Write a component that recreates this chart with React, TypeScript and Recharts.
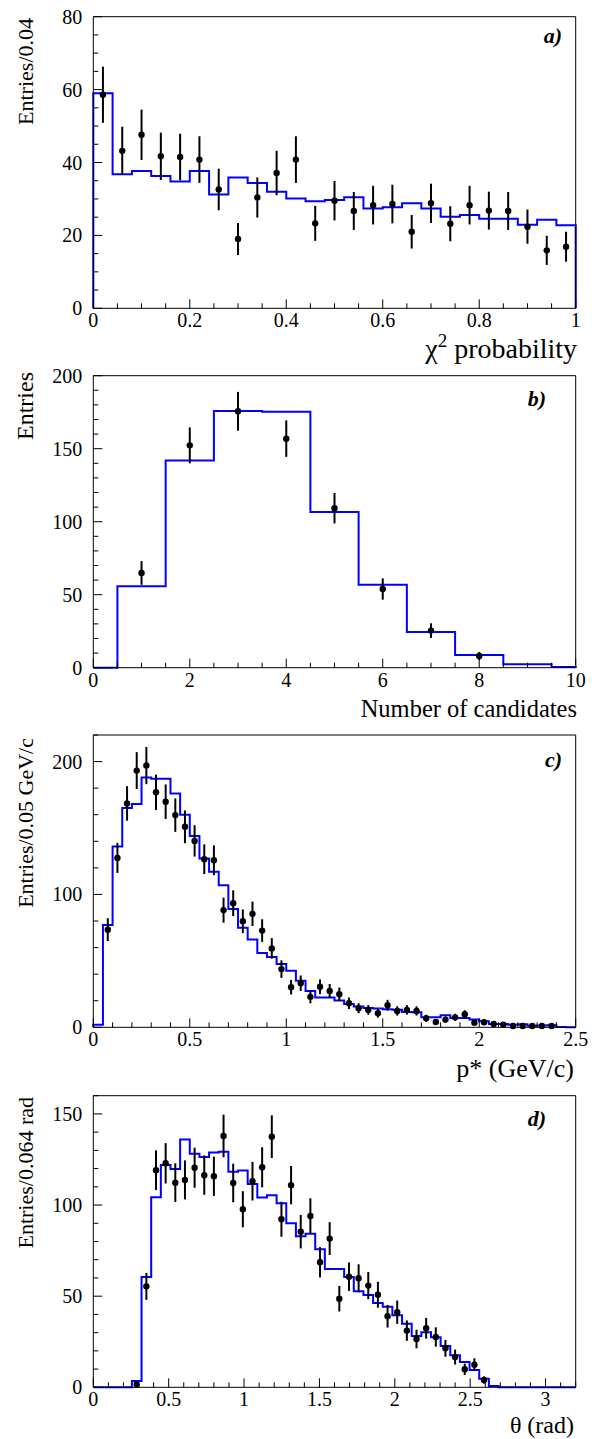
import React from 'react';
import { ComposedChart, Line, Scatter, XAxis, YAxis, ErrorBar } from 'recharts';

const FONT = '"Liberation Serif", "Times New Roman", Times, serif';
const BLUE = '#0000ff';
const MAJOR = 9;
const MINOR = 5;

// ---------------- Panel a) chi2 probability ----------------
const aBinLow = 0;
const aBinWidth = 0.04;
const aXTicks = [0, 0.2, 0.4, 0.6, 0.8, 1];
const aXTickLabels = ['0', '0.2', '0.4', '0.6', '0.8', '1'];
const aYTicks = [0, 20, 40, 60, 80];
const aYTickLabels = ['0', '20', '40', '60', '80'];
const aMc = [59.0, 36.8, 37.7, 36.3, 34.8, 37.7, 31.2, 35.9, 34.4, 32.0, 30.1, 29.4, 29.7,
  30.5, 27.4, 27.7, 28.8, 27.4, 25.1, 25.6, 24.6, 24.6, 22.9, 24.3, 22.8];
const aData = [58.6, 43.2, 47.6, 41.7, 41.5, 40.8, 32.6, 19.0, 30.4, 37.1, 40.8, 23.3, 29.5,
  26.7, 28.3, 28.6, 21.0, 28.8, 23.2, 28.3, 26.8, 26.7, 22.4, 15.9, 16.9];
const aErr = [7.7, 6.6, 6.9, 6.5, 6.4, 6.4, 5.7, 4.4, 5.5, 6.1, 6.4, 4.8, 5.4,
  5.2, 5.3, 5.3, 4.6, 5.4, 4.8, 5.3, 5.2, 5.2, 4.7, 4.0, 4.1];

// ---------------- Panel b) number of candidates ----------------
const bCategories = [0, 1, 2, 3, 4, 5, 6, 7, 8, 9, 10];
const bXTicks = [0, 2, 4, 6, 8, 10];
const bXTickLabels = ['0', '2', '4', '6', '8', '10'];
const bYTicks = [0, 50, 100, 150, 200];
const bYTickLabels = ['0', '50', '100', '150', '200'];
const bMc = [0, 55.8, 142.0, 175.8, 175.3, 106.7, 56.8, 24.5, 8.7, 2.3, 0.4];
const bData = [null, 64.9, 152.3, 175.6, 156.9, 109.2, 53.9, 25.4, 8.0, null, null];
const bErr = [null, 8.1, 12.3, 13.3, 12.5, 10.4, 7.3, 5.0, 2.8, null, null];

// ---------------- Panel c) p* ----------------
const cBinLow = 0;
const cBinWidth = 0.05;
const cXTicks = [0, 0.5, 1, 1.5, 2, 2.5];
const cXTickLabels = ['0', '0.5', '1', '1.5', '2', '2.5'];
const cYTicks = [0, 100, 200];
const cYTickLabels = ['0', '100', '200'];
const cMc = [2, 77, 136, 165, 168, 188, 187, 187, 176, 160, 144, 127, 117, 107, 89, 75, 66, 56, 53,
  47.6, 42.6, 35.0, 27.4, 22.4, 22.4, 20.1, 17.6, 15.6, 14.6, 14.1, 13.6, 13.3, 11.6, 11.3,
  7.6, 7.6, 9.1, 7.0, 7.0, 5.8, 4.5, 2.5, 2.5, 1.9, 2.3, 1.1, 1.4, 1.6, 0.3, 0];
const cData = [null, 73.5, 127.5, 168.5, 193.2, 197.0, 176.9, 169.8, 159.7, 150.9, 140.3, 126.5, 125.7,
  88.2, 93.4, 79.8, 85.4, 72.8, 59.4, 43.8, 30.2, 33.2, 22.9, 30.5, 27.4, 24.9, 18.1, 14.4, 13.1,
  10.6, 16.6, 12.3, 13.1, 12.3, 6.8, 4.0, 5.8, 7.5, 9.8, 3.5, 3.8, 2.5, 2, 1, 1, 1, 1, 1, null, null];
const cErr = [null, 8.6, 11.3, 13.0, 13.9, 14.0, 13.3, 13.0, 12.6, 12.3, 11.8, 11.2, 11.2,
  9.4, 9.7, 8.9, 9.2, 8.5, 7.7, 6.6, 5.5, 5.8, 4.8, 5.5, 5.2, 5.0, 4.3, 3.8, 3.6,
  3.3, 4.1, 3.5, 3.6, 3.5, 2.6, 2.0, 2.4, 2.7, 3.1, 1.9, 1.9, 1.6, 1.4, 1.0, 1.0, 1.0, 1.0, 1.0, null, null];

// ---------------- Panel d) theta ----------------
const dBinLow = 0;
const dBinWidth = 0.064;
const dXTicks = [0, 0.5, 1, 1.5, 2, 2.5, 3];
const dXTickLabels = ['0', '0.5', '1', '1.5', '2', '2.5', '3'];
const dYTicks = [0, 50, 100, 150];
const dYTickLabels = ['0', '50', '100', '150'];
const dMc = [0, 0, 0, 0, 3.5, 60.5, 104.3, 122.0, 119.8, 135.9, 128.2, 126.4, 128.8, 129.3, 118.3,
  118.9, 111.6, 104.1, 105.4, 101.0, 90.0, 82.9, 84.3, 75.7, 64.9, 64.9, 60.5, 52.7, 50.7, 46.3,
  44.2, 39.5, 34.9, 28.2, 30.2, 27.4, 22.7, 17.6, 13.9, 9.5, 4.7, 0.7, 0, 0, 0, 0, 0, 0, 0, 0];
const dData = [null, null, null, null, 1.5, 55.4, 119.1, 122.9, 112.3, 113.8, 120.5, 116.4, 115.8,
  137.9, 112.1, 97.7, 113.1, 120.7, 137.5, 92.2, 110.9, 85.4, 94.0, 68.6, 81.6, 48.6, 60.7, 59.8,
  55.8, 50.8, 39.0, 41.2, 31.1, 26.5, 32.4, 27.6, 21.4, 16.6, 9.9, 12.4, 4.0,
  null, null, null, null, null, null, null, null, null];
const dErr = [null, null, null, null, 1.2, 7.4, 10.9, 11.1, 10.6, 10.7, 11.0, 10.8, 10.8,
  11.7, 10.6, 9.9, 10.6, 11.0, 11.7, 9.6, 10.5, 9.2, 9.7, 8.3, 9.0, 7.0, 7.8, 7.7,
  7.5, 7.1, 6.2, 6.4, 5.6, 5.1, 5.7, 5.3, 4.6, 4.1, 3.1, 3.5, 2.0,
  null, null, null, null, null, null, null, null, null];

// ---------------- helpers ----------------
type Pt = { x: number; y: number };
type EPt = { x: number; y: number; err: number };

function histSteps(values: number[], lo: number, width: number, clipLo: number, clipHi: number): Pt[] {
  const clip = (v: number) => Math.min(clipHi, Math.max(clipLo, v));
  const pts: Pt[] = [{ x: clip(lo), y: 0 }];
  values.forEach((v, i) => pts.push({ x: clip(lo + i * width), y: v }));
  const end = clip(lo + values.length * width);
  pts.push({ x: end, y: values[values.length - 1] });
  pts.push({ x: end, y: 0 });
  return pts;
}

function dataPoints(values: (number | null)[], errs: (number | null)[], centers: number[]): EPt[] {
  const out: EPt[] = [];
  values.forEach((v, i) => {
    if (v != null) out.push({ x: centers[i], y: v, err: errs[i] ?? 0 });
  });
  return out;
}

function binCenters(n: number, lo: number, width: number): number[] {
  return Array.from({ length: n }, (_, i) => lo + (i + 0.5) * width);
}

function tickGrid(lo: number, hi: number, step: number): number[] {
  const n = Math.round((hi - lo) / step);
  return Array.from({ length: n + 1 }, (_, i) => Math.round((lo + i * step) * 1e6) / 1e6);
}

const majorIndex = (majors: number[], v: number) => majors.findIndex((m) => Math.abs(m - v) < 1e-6);

function bottomTick(majors: number[], labels: string[]) {
  return (props: any) => {
    const { x, y, payload } = props;
    const i = majorIndex(majors, payload.value);
    return (
      <g>
        <line x1={x} y1={y} x2={x} y2={y - (i >= 0 ? MAJOR : MINOR)} stroke="#000" strokeWidth={1} />
        {i >= 0 ? (
          <text x={x} y={y + 19} textAnchor="middle" fontFamily={FONT} fontSize={20} fill="#000">
            {labels[i]}
          </text>
        ) : null}
      </g>
    );
  };
}

function topTick(majors: number[]) {
  return (props: any) => {
    const { x, y, payload } = props;
    const i = majorIndex(majors, payload.value);
    return <line x1={x} y1={y} x2={x} y2={y + (i >= 0 ? MAJOR : MINOR)} stroke="#000" strokeWidth={1} />;
  };
}

function leftTick(majors: number[], labels: string[]) {
  return (props: any) => {
    const { x, y, payload } = props;
    const i = majorIndex(majors, payload.value);
    return (
      <g>
        <line x1={x} y1={y} x2={x + (i >= 0 ? MAJOR : MINOR)} y2={y} stroke="#000" strokeWidth={1} />
        {i >= 0 ? (
          <text x={x - 11} y={y + 7} textAnchor="end" fontFamily={FONT} fontSize={20} fill="#000">
            {labels[i]}
          </text>
        ) : null}
      </g>
    );
  };
}

function rightTick(majors: number[]) {
  return (props: any) => {
    const { x, y, payload } = props;
    const i = majorIndex(majors, payload.value);
    return <line x1={x} y1={y} x2={x - (i >= 0 ? MAJOR : MINOR)} y2={y} stroke="#000" strokeWidth={1} />;
  };
}

const AXIS_LINE = { stroke: '#000', strokeWidth: 1 };

const dot = (props: any) => <circle cx={props.cx} cy={props.cy} r={3.2} fill="#000" />;

type PanelSpec = {
  top: number;
  height: number;
  plotTop: number;
  plotBottom: number;
  xDomain: [number, number];
  yDomain: [number, number];
  xMinor: number;
  yMinor: number;
  xMajors: number[];
  xLabels: string[];
  yMajors: number[];
  yLabels: string[];
  hist: Pt[];
  points: EPt[];
};

const W = 595;
const LEFT_W = 93.3;
const RIGHT_W = 19.3;

function Panel(p: PanelSpec) {
  const xt = tickGrid(p.xDomain[0], p.xDomain[1], p.xMinor);
  const yt = tickGrid(p.yDomain[0], p.yDomain[1], p.yMinor);
  return (
    <div style={{ position: 'absolute', left: 0, top: p.top, width: W, height: p.height }}>
      <ComposedChart width={W} height={p.height} margin={{ top: 0, right: 0, bottom: 0, left: 0 }}>
        <XAxis
          xAxisId="b"
          orientation="bottom"
          type="number"
          dataKey="x"
          domain={p.xDomain}
          ticks={xt}
          interval={0}
          height={p.top + p.height - p.plotBottom}
          tickSize={0}
          tickMargin={0}
          tickLine={false}
          axisLine={AXIS_LINE}
          tick={bottomTick(p.xMajors, p.xLabels)}
        />
        <XAxis
          xAxisId="t"
          orientation="top"
          type="number"
          dataKey="x"
          domain={p.xDomain}
          ticks={xt}
          interval={0}
          height={p.plotTop - p.top}
          tickSize={0}
          tickMargin={0}
          tickLine={false}
          axisLine={AXIS_LINE}
          tick={topTick(p.xMajors)}
        />
        <YAxis
          yAxisId="l"
          orientation="left"
          type="number"
          dataKey="y"
          domain={p.yDomain}
          ticks={yt}
          interval={0}
          width={LEFT_W}
          tickSize={0}
          tickMargin={0}
          tickLine={false}
          axisLine={AXIS_LINE}
          tick={leftTick(p.yMajors, p.yLabels)}
        />
        <YAxis
          yAxisId="r"
          orientation="right"
          type="number"
          dataKey="y"
          domain={p.yDomain}
          ticks={yt}
          interval={0}
          width={RIGHT_W}
          tickSize={0}
          tickMargin={0}
          tickLine={false}
          axisLine={AXIS_LINE}
          tick={rightTick(p.yMajors)}
        />
        <Line
          xAxisId="b"
          yAxisId="l"
          data={p.hist}
          dataKey="y"
          type="stepAfter"
          stroke={BLUE}
          strokeWidth={2}
          dot={false}
          activeDot={false}
          isAnimationActive={false}
        />
        <Scatter xAxisId="b" yAxisId="l" data={p.points} dataKey="y" shape={dot} isAnimationActive={false}>
          <ErrorBar dataKey="err" direction="y" width={0} stroke="#000" strokeWidth={2} isAnimationActive={false} />
        </Scatter>
      </ComposedChart>
    </div>
  );
}

const panels: PanelSpec[] = [
  {
    top: 0, height: 360, plotTop: 16.7, plotBottom: 308.3,
    xDomain: [0, 1], yDomain: [0, 80], xMinor: 0.05, yMinor: 5,
    xMajors: aXTicks, xLabels: aXTickLabels, yMajors: aYTicks, yLabels: aYTickLabels,
    hist: histSteps(aMc, aBinLow, aBinWidth, 0, 1),
    points: dataPoints(aData, aErr, binCenters(aData.length, aBinLow, aBinWidth)),
  },
  {
    top: 360, height: 365, plotTop: 375.7, plotBottom: 667.7,
    xDomain: [0, 10], yDomain: [0, 200], xMinor: 0.5, yMinor: 10,
    xMajors: bXTicks, xLabels: bXTickLabels, yMajors: bYTicks, yLabels: bYTickLabels,
    hist: histSteps(bMc, bCategories[0] - 0.5, 1, 0, 10),
    points: dataPoints(bData, bErr, bCategories),
  },
  {
    top: 725, height: 345, plotTop: 735, plotBottom: 1027.3,
    xDomain: [0, 2.5], yDomain: [0, 220], xMinor: 0.1, yMinor: 20,
    xMajors: cXTicks, xLabels: cXTickLabels, yMajors: cYTicks, yLabels: cYTickLabels,
    hist: histSteps(cMc, cBinLow, cBinWidth, 0, 2.5),
    points: dataPoints(cData, cErr, binCenters(cData.length, cBinLow, cBinWidth)),
  },
  {
    top: 1070, height: 369, plotTop: 1095.7, plotBottom: 1387.3,
    xDomain: [0, 3.2], yDomain: [0, 160], xMinor: 0.1, yMinor: 10,
    xMajors: dXTicks, xLabels: dXTickLabels, yMajors: dYTicks, yLabels: dYTickLabels,
    hist: histSteps(dMc, dBinLow, dBinWidth, 0, 3.2),
    points: dataPoints(dData, dErr, binCenters(dData.length, dBinLow, dBinWidth)),
  },
];

const yTitles = [
  { text: 'Entries/0.04', x: 33, y: 18, size: 22 },
  { text: 'Entries', x: 33, y: 372, size: 24 },
  { text: 'Entries/0.05 GeV/c', x: 33, y: 738, size: 22 },
  { text: 'Entries/0.064 rad', x: 33, y: 1097, size: 22 },
];

const panelTags = [
  { text: 'a)', x: 562, y: 43 },
  { text: 'b)', x: 546, y: 406 },
  { text: 'c)', x: 562, y: 767 },
  { text: 'd)', x: 546, y: 1126 },
];

export default function App() {
  const titleX = 577;
  return (
    <div style={{ position: 'absolute', left: 0, top: 0, width: W, height: 1439, background: '#fff' }}>
      {panels.map((p, i) => (
        <Panel key={i} {...p} />
      ))}
      <svg
        width={W}
        height={1439}
        style={{ position: 'absolute', left: 0, top: 0, pointerEvents: 'none' }}
        fontFamily={FONT}
      >
        {yTitles.map((t, i) => (
          <text key={i} transform={`translate(${t.x},${t.y}) rotate(-90)`} textAnchor="end" fontSize={t.size} fill="#000">
            {t.text}
          </text>
        ))}
        <text x={titleX} y={358} textAnchor="end" fontSize={28} fill="#000">
          <tspan>χ</tspan>
          <tspan dy={-11} fontSize={19}>2</tspan>
          <tspan dy={11}> probability</tspan>
        </text>
        <text x={titleX} y={717} textAnchor="end" fontSize={24.5} fill="#000">Number of candidates</text>
        <text x={titleX - 3} y={1077} textAnchor="end" fontSize={26} fill="#000">p* (GeV/c)</text>
        <text x={titleX - 3} y={1433} textAnchor="end" fontSize={24} fill="#000">θ (rad)</text>
        {panelTags.map((t, i) => (
          <text key={i} x={t.x} y={t.y} textAnchor="end" fontSize={22} fontWeight="bold" fontStyle="italic" fill="#000">
            {t.text}
          </text>
        ))}
      </svg>
    </div>
  );
}
